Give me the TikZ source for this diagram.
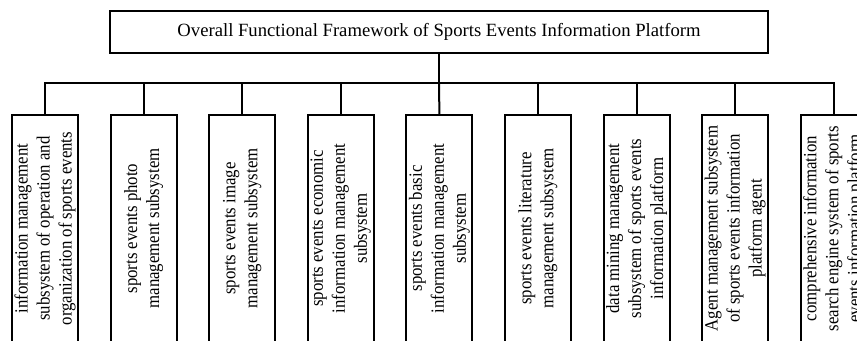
\documentclass[tikz,border=0pt]{standalone}
\usepackage{fontspec}
\setmainfont{Liberation Serif}
\newfontfamily\narrowserif[FakeStretch=0.9]{Liberation Serif}
\usepackage{tikz}
\usetikzlibrary{calc}

\tikzset{
    framebox/.style={draw,line width=1.2pt,minimum width=394.8pt,minimum height=25.2pt,inner sep=0pt,font=\fontsize{11.2}{13.2}\selectfont},
    subbox/.style={draw,line width=1.2pt,rotate=90,align=center,minimum width=136.2pt,minimum height=39.6pt,inner sep=0pt,font=\narrowserif\fontsize{11.2}{13.2}\selectfont},
    branch/.style={line width=1.2pt}
}

\begin{document}
\begin{tikzpicture}[x=0.6pt,y=0.6pt]
\useasboundingbox (0,0) rectangle (857,340);
\clip (0,0) rectangle (857,340);
\node[framebox] (top) at (439,308) {Overall Functional Framework of Sports Events Information Platform};
\coordinate (bus) at (439,257);
\node[subbox] (s1) at (45,111.5) {information management\\ subsystem of operation and\\ organization of sports events};
\node[subbox] (s2) at (143.6,111.5) {sports events photo\\ management subsystem};
\node[subbox] (s3) at (242.2,111.5) {sports events image\\ management subsystem};
\node[subbox] (s4) at (340.8,111.5) {sports events economic\\ information management\\ subsystem};
\node[subbox] (s5) at (439.4,111.5) {sports events basic\\ information management\\ subsystem};
\node[subbox] (s6) at (538,111.5) {sports events literature\\ management subsystem};
\node[subbox] (s7) at (636.6,111.5) {data mining management\\ subsystem of sports events\\ information platform};
\node[subbox] (s8) at (735.2,111.5) {Agent management subsystem\\ of sports events information\\ platform agent};
\node[subbox] (s9) at (833.8,111.5) {comprehensive information\\ search engine system of sports\\ events information platform};
\draw[branch] (top.south) -- (bus);
\draw[branch] (s1.east) |- (bus);
\draw[branch] (s2.east) |- (bus);
\draw[branch] (s3.east) |- (bus);
\draw[branch] (s4.east) |- (bus);
\draw[branch] (s5.east) -- (bus);
\draw[branch] (s6.east) |- (bus);
\draw[branch] (s7.east) |- (bus);
\draw[branch] (s8.east) |- (bus);
\draw[branch] (s9.east) |- (bus);
\end{tikzpicture}
\end{document}
